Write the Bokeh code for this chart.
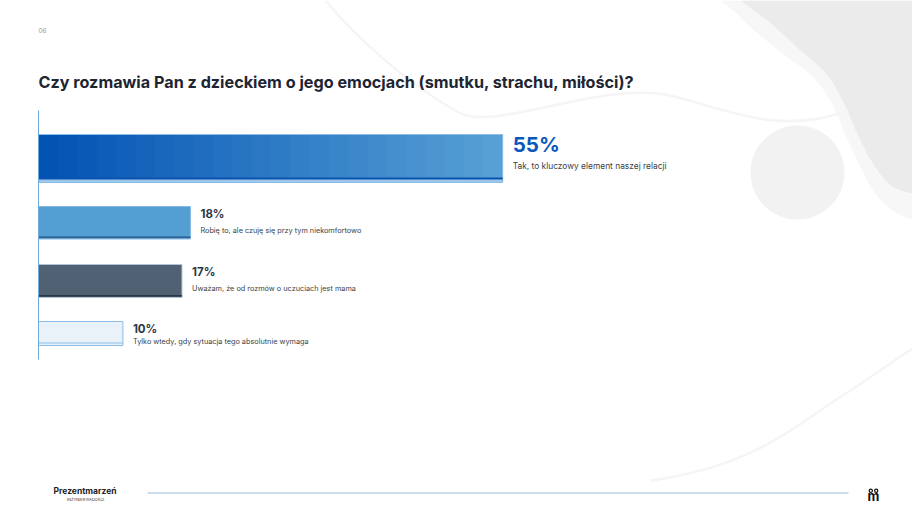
import numpy as np
from bokeh.plotting import figure
from bokeh.models import Range1d
from bokeh.core.properties import value
from bokeh.embed import file_html
from bokeh.resources import INLINE

# ---------------- data ----------------
title_text = "Czy rozmawia Pan z dzieckiem o jego emocjach (smutku, strachu, miłości)?"
page_no = "06"
answers = [
    "Tak, to kluczowy element naszej relacji",
    "Robię to, ale czuję się przy tym niekomfortowo",
    "Uważam, że od rozmów o uczuciach jest mama",
    "Tylko wtedy, gdy sytuacja tego absolutnie wymaga",
]
shares = [55, 18, 17, 10]

# ---------------- layout / style ----------------
PX = 8.44           # pixels per percentage point
X0 = 38             # screen x of 0 %
W, H = 912, 510
OFF = 0

bar_top = [134, 206, 264, 321]
bar_bottom = [182, 238.5, 297, 345]
bar_fill = [None, "#539fd3", "#4f6173", "#e9f1f9"]
bar_edge = ["#8cbde6", "#86b8e2", "#b3c3d3", "#8cbde8"]
bar_rule = ["#0b53ad", "#2d5d8a", "#2a3746", "#8cbde8"]
pct_color = ["#0a58bd", "#2b3748", "#2b3748", "#2b3748"]
pct_size = ["20.5px", "11.5px", "11.5px", "11.5px"]
sub_size = ["8.4px", "7.3px", "7.3px", "7.3px"]
pct_y = [143.5, 213.5, 271.5, 328.5]
sub_y = [165, 230, 288, 340.5]
grad_left, grad_right = np.array([3, 83, 181]), np.array([87, 160, 213])


def xd(sx):
    return (sx - X0) / PX


p = figure(width=W, height=H, output_backend="svg", toolbar_location=None,
           x_range=Range1d(xd(OFF), xd(OFF + W)),
           y_range=Range1d(OFF + H, OFF),
           min_border=0, background_fill_color="white", border_fill_color="white")
p.axis.visible = False
p.grid.visible = False
p.outline_line_color = None

# ---------------- background decoration ----------------
band = [(720, 0), (737, 14), (750, 27), (768, 42), (787, 57), (803, 68), (813, 77), (822, 88),
        (830, 100), (837, 115), (843, 130), (851, 148), (860, 167), (869, 185), (880, 200),
        (893, 211), (907, 218), (925, 219), (925, 0)]
blob = [(740, 0), (752, 9), (767, 20), (784, 35), (800, 50), (812, 60), (823, 70), (831, 80),
        (837, 90), (842, 100), (847, 110), (853, 125), (860, 140), (868, 156), (877, 170),
        (885, 180), (893, 187), (903, 191), (913, 193), (925, 193), (925, 0)]
p.patch([xd(a) for a, b in band], [b for a, b in band], fill_color="#f7f7f7", line_color=None)
p.patch([xd(a) for a, b in blob], [b for a, b in blob], fill_color="#ebebeb", line_color=None)
p.scatter(x=[xd(797)], y=[172], size=94, marker="circle", fill_color="#f2f2f2", line_color=None)

# faint wave lines
waves = [
    (325, 0, 350, 30, 400, 80, 460, 113),
    (460, 113, 500, 130, 600, 80, 670, 95),
    (670, 95, 730, 110, 780, 135, 848, 110),
    (650, 480, 760, 465, 800, 420, 850, 390),
    (850, 390, 880, 370, 900, 355, 925, 340),
]
for x0, y0, cx0, cy0, cx1, cy1, x1, y1 in waves:
    p.bezier(x0=[xd(x0)], y0=[y0], x1=[xd(x1)], y1=[y1], cx0=[xd(cx0)], cy0=[cy0],
             cx1=[xd(cx1)], cy1=[cy1], line_color="#f5f5f5", line_width=2.5)

# ---------------- header ----------------
p.text(x=[xd(38)], y=[30], text=[page_no], text_font=value("Inter"), text_font_size="6.5px",
       text_color="#9a9a9a", text_baseline="middle", text_align="left")
p.text(x=[xd(38)], y=[81], text=[title_text], text_font=value("Inter"), text_font_style="bold",
       text_font_size="16.2px", text_color="#1e2532", text_baseline="middle", text_align="left")

# ---------------- bars ----------------
n_strip = 24
for i, v in enumerate(shares):
    top, bot = bar_top[i], bar_bottom[i]
    if bar_fill[i] is None:
        edges = np.linspace(0, v, n_strip + 1)
        rights = np.minimum(edges[1:] + 0.2, v)
        cols = []
        for t in np.linspace(0, 1, n_strip):
            c = (grad_left * (1 - t) + grad_right * t).astype(int)
            cols.append("#%02x%02x%02x" % tuple(c))
        p.quad(left=edges[:-1], right=rights, top=[top] * n_strip, bottom=[bot - 4] * n_strip,
               fill_color=cols, line_color=None)
        p.quad(left=[0], right=[v], top=[bot - 4], bottom=[bot], fill_color="#9cc6ea", line_color=None)
        p.quad(left=[0], right=[v], top=[top], bottom=[bot], fill_color=None,
               line_color=bar_edge[i], line_width=1)
        p.quad(left=[0], right=[v], top=[bot - 5], bottom=[bot - 3], fill_color=bar_rule[i], line_color=None)
    else:
        p.quad(left=[0], right=[v], top=[top], bottom=[bot], fill_color=bar_fill[i],
               line_color=bar_edge[i], line_width=1)
        if i == 3:
            p.quad(left=[0], right=[v], top=[bot - 3], bottom=[bot - 2], fill_color=bar_rule[i], line_color=None)
        else:
            p.quad(left=[0], right=[v], top=[bot - 2.5], bottom=[bot - 1], fill_color=bar_rule[i], line_color=None)

    p.text(x=[v], y=[pct_y[i]], text=["%d%%" % v], x_offset=10,
           text_font=value("Inter"), text_font_style="bold", text_font_size=pct_size[i],
           text_color=pct_color[i], text_baseline="middle", text_align="left")
    p.text(x=[v], y=[sub_y[i]], text=[answers[i]], x_offset=10,
           text_font=value("Inter"), text_font_size=sub_size[i],
           text_color="#3a3f47", text_baseline="middle", text_align="left")

# vertical axis line
p.segment(x0=[0], y0=[110], x1=[0], y1=[359], line_color="#6fa8dc", line_width=1)

# ---------------- footer ----------------
p.segment(x0=[xd(147)], y0=[492.5], x1=[xd(848)], y1=[492.5], line_color="#bcd2e8", line_width=1.5)
p.text(x=[xd(53)], y=[490], text=["Prezentmarzeń"], text_font=value("Inter"), text_font_style="bold",
       text_font_size="8.5px", text_color="#222222", text_baseline="middle", text_align="left")
p.text(x=[xd(85)], y=[498.5], text=["INŻYNIER RADOŚCI"], text_font=value("Inter"),
       text_font_size="4px", text_color="#333333", text_baseline="middle", text_align="center")
p.text(x=[xd(873)], y=[495], text=["m"], text_font=value("Inter"), text_font_style="bold",
       text_font_size="13px", text_color="#111111", text_baseline="middle", text_align="center")
p.scatter(x=[xd(870.3), xd(875.7)], y=[490.3, 490.3], size=3.2, marker="circle",
          fill_color=None, line_color="#111111", line_width=1.2)

open("out.html", "w").write(file_html(p, INLINE))
